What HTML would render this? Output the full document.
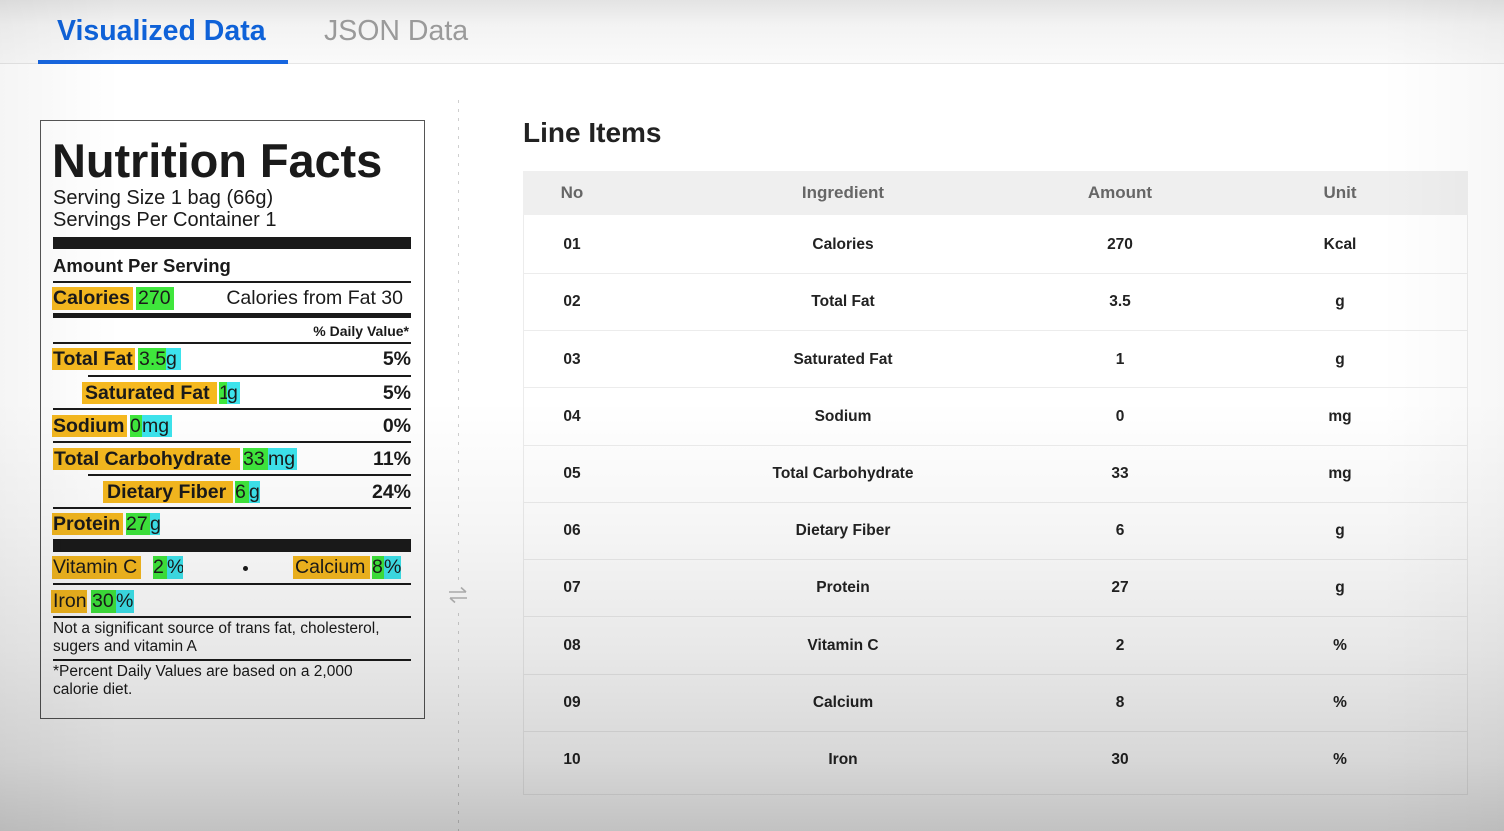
<!DOCTYPE html>
<html><head><meta charset="utf-8">
<style>
*{margin:0;padding:0;box-sizing:border-box}
html,body{width:1504px;height:831px;overflow:hidden;background:#fff;font-family:"Liberation Sans",Arial,sans-serif;color:#1a1a1a}
.abs{position:absolute}
#tabbar{position:absolute;left:0;top:0;width:1504px;height:64px;background:linear-gradient(#e3e3e3,#f3f3f3 40%,#fafafa);border-bottom:1.5px solid #e6e6e6}
.tab1{position:absolute;left:57px;top:14px;font-size:28.5px;font-weight:bold;color:#0f62d8;line-height:34px;white-space:nowrap}
.tab2{position:absolute;left:324px;top:14px;font-size:28.5px;color:#9a9a9a;line-height:34px;white-space:nowrap}
.uline{position:absolute;left:38px;top:60px;width:250px;height:4px;background:#1766e0}
#box{position:absolute;left:40px;top:120px;width:385px;height:599px;border:1.5px solid #555;background:#fff}
.t{position:absolute;white-space:nowrap}
.bar{position:absolute;background:#1a1a1a}
.hl{position:absolute;height:22px;line-height:22px;font-size:19.5px;white-space:nowrap;padding-left:1px}
.o{background:#f6b91f;font-weight:bold}
.or{background:#f6b91f}
.g{background:#3fe63c}
.c{background:#3de3ec}
.pct{position:absolute;right:1093px;font-size:19.5px;font-weight:bold;line-height:22px;text-align:right;white-space:nowrap}
#dots{position:absolute;left:458px;top:100px;width:1px;height:731px;background:repeating-linear-gradient(#cfcfcf 0 3px,transparent 3px 9px)}
#tbl{position:absolute;left:523px;top:171px;width:945px;height:624px;background:#fff;border-left:1px solid #ececec;border-right:1px solid #ececec;border-bottom:1px solid #ececec}
.th{position:absolute;top:171px;height:44px;line-height:44px;font-size:17px;font-weight:bold;color:#666;width:300px;text-align:center}
.td{position:absolute;height:24px;line-height:24px;font-size:15.5px;font-weight:bold;color:#222;width:300px;text-align:center}
.sep{position:absolute;left:523px;width:945px;height:1px;background:#ececec}
#ov{position:absolute;left:0;top:0;width:1504px;height:831px;pointer-events:none;
background:linear-gradient(to bottom,rgba(0,0,0,0) 0,rgba(0,0,0,0) 400px,rgba(0,0,0,0.035) 520px,rgba(0,0,0,0.09) 650px,rgba(0,0,0,0.155) 760px,rgba(0,0,0,0.24) 831px)}
#ov2{position:absolute;left:0;top:0;width:1504px;height:831px;pointer-events:none;
background:linear-gradient(to right,rgba(0,0,0,0.04) 0,rgba(0,0,0,0) 120px,rgba(0,0,0,0) 1380px,rgba(0,0,0,0.03) 1504px)}
</style></head><body>

<div id="tabbar"></div>
<div class="tab1">Visualized Data</div>
<div class="tab2">JSON Data</div>
<div class="uline"></div>

<div id="box"></div>
<div class="t" style="left:52px;top:134px;font-size:47px;font-weight:bold;line-height:54px;letter-spacing:-0.1px">Nutrition Facts</div>
<div class="t" style="left:53px;top:186px;font-size:20px;line-height:24px">Serving Size 1 bag (66g)</div>
<div class="t" style="left:53px;top:208px;font-size:20px;line-height:24px">Servings Per Container 1</div>
<div class="bar" style="left:53px;top:237px;width:358px;height:12px"></div>
<div class="t" style="left:53px;top:254px;font-size:18.5px;font-weight:bold;line-height:24px">Amount Per Serving</div>
<div class="bar" style="left:53px;top:281px;width:358px;height:1.5px"></div>

<!-- Calories -->
<div class="hl o" style="left:52px;top:287px;width:81px;height:23px;line-height:23px">Calories</div>
<div class="hl g" style="left:136px;top:287px;width:38px;height:23px;line-height:23px;padding-left:2px">270</div>
<div class="t" style="right:1101px;top:287px;font-size:19.5px;line-height:23px">Calories from Fat 30</div>
<div class="bar" style="left:53px;top:313px;width:358px;height:5px"></div>
<div class="t" style="right:1095px;top:322px;font-size:14px;font-weight:bold;line-height:18px">% Daily Value*</div>
<div class="bar" style="left:53px;top:342px;width:358px;height:1.5px"></div>

<!-- Total Fat -->
<div class="hl o" style="left:52px;top:348px;width:83px">Total Fat</div>
<div class="hl g" style="left:138px;top:348px;width:28px">3.5</div>
<div class="hl c" style="left:166px;top:348px;width:15px;padding-left:0">g</div>
<div class="pct" style="top:348px">5%</div>
<div class="bar" style="left:88px;top:375px;width:323px;height:1.5px"></div>

<!-- Saturated Fat -->
<div class="hl o" style="left:82px;top:382px;width:135px;padding-left:3px">Saturated Fat</div>
<div class="hl g" style="left:219px;top:382px;width:8px;padding-left:0">1</div>
<div class="hl c" style="left:227px;top:382px;width:13px;padding-left:0">g</div>
<div class="pct" style="top:382px">5%</div>
<div class="bar" style="left:53px;top:408px;width:358px;height:1.5px"></div>

<!-- Sodium -->
<div class="hl o" style="left:52px;top:415px;width:75px">Sodium</div>
<div class="hl g" style="left:130px;top:415px;width:12px;padding-left:0">0</div>
<div class="hl c" style="left:142px;top:415px;width:30px;padding-left:0">mg</div>
<div class="pct" style="top:415px">0%</div>
<div class="bar" style="left:53px;top:441px;width:358px;height:1.5px"></div>

<!-- Total Carbohydrate -->
<div class="hl o" style="left:53px;top:448px;width:187px">Total Carbohydrate</div>
<div class="hl g" style="left:243px;top:448px;width:25px;padding-left:0">33</div>
<div class="hl c" style="left:268px;top:448px;width:29px;padding-left:0">mg</div>
<div class="pct" style="top:448px">11%</div>
<div class="bar" style="left:88px;top:474px;width:323px;height:1.5px"></div>

<!-- Dietary Fiber -->
<div class="hl o" style="left:103px;top:481px;width:130px;padding-left:4px">Dietary Fiber</div>
<div class="hl g" style="left:235px;top:481px;width:14px;padding-left:0">6</div>
<div class="hl c" style="left:249px;top:481px;width:11px;padding-left:0">g</div>
<div class="pct" style="top:481px">24%</div>
<div class="bar" style="left:53px;top:507px;width:358px;height:1.5px"></div>

<!-- Protein -->
<div class="hl o" style="left:52px;top:513px;width:71px">Protein</div>
<div class="hl g" style="left:126px;top:513px;width:24px;padding-left:0">27</div>
<div class="hl c" style="left:150px;top:513px;width:10px;padding-left:0">g</div>
<div class="bar" style="left:53px;top:539px;width:358px;height:13px"></div>

<!-- Vitamins -->
<div class="hl or" style="left:52px;top:556px;width:89px;height:23px;line-height:23px">Vitamin C</div>
<div class="hl g" style="left:153px;top:556px;width:14px;height:23px;line-height:23px;padding-left:0">2</div>
<div class="hl c" style="left:167px;top:556px;width:16px;height:23px;line-height:23px;padding-left:0;overflow:hidden">%</div>
<div class="abs" style="left:243px;top:566px;width:5px;height:5px;border-radius:50%;background:#1a1a1a"></div>
<div class="hl or" style="left:293px;top:556px;width:77px;height:23px;line-height:23px;padding-left:2px">Calcium</div>
<div class="hl g" style="left:372px;top:556px;width:12px;height:23px;line-height:23px;padding-left:0">8</div>
<div class="hl c" style="left:384px;top:556px;width:17px;height:23px;line-height:23px;padding-left:0;overflow:hidden">%</div>
<div class="bar" style="left:53px;top:583px;width:358px;height:1.5px"></div>

<div class="hl or" style="left:51px;top:590px;width:36px;height:23px;line-height:23px;padding-left:2px">Iron</div>
<div class="hl g" style="left:91px;top:590px;width:25px;height:23px;line-height:23px;padding-left:1px">30</div>
<div class="hl c" style="left:116px;top:590px;width:18px;height:23px;line-height:23px;padding-left:0;overflow:hidden">%</div>
<div class="bar" style="left:53px;top:616px;width:358px;height:1.5px"></div>

<div class="t" style="left:53px;top:620px;font-size:15.5px;line-height:18px">Not a significant source of trans fat, cholesterol,<br>sugers and vitamin A</div>
<div class="bar" style="left:53px;top:659px;width:358px;height:1.5px"></div>
<div class="t" style="left:53px;top:663px;font-size:15.5px;line-height:18px">*Percent Daily Values are based on a 2,000<br>calorie diet.</div>

<!-- divider -->
<div id="dots"></div>
<div class="abs" style="left:446px;top:583px;width:24px;height:24px;background:#fff"></div>
<svg class="abs" style="left:447px;top:586px" width="22" height="18" viewBox="0 0 22 18">
<path d="M2 6 H19 M14 1.5 L19 6" stroke="#b5b5b5" stroke-width="1.6" fill="none"/>
<path d="M20 12 H3 M8 16.5 L3 12" stroke="#b5b5b5" stroke-width="1.6" fill="none"/>
</svg>

<!-- Line items -->
<div class="t" style="left:523px;top:116px;font-size:28px;font-weight:bold;line-height:34px;color:#222">Line Items</div>
<div id="tbl"></div>
<div class="abs" style="left:523px;top:171px;width:945px;height:44px;background:#efefef"></div>
<div class="th" style="left:422px">No</div>
<div class="th" style="left:693px">Ingredient</div>
<div class="th" style="left:970px">Amount</div>
<div class="th" style="left:1190px">Unit</div>

<div class="sep" style="top:273px"></div>
<div class="sep" style="top:330px"></div>
<div class="sep" style="top:387px"></div>
<div class="sep" style="top:445px"></div>
<div class="sep" style="top:502px"></div>
<div class="sep" style="top:559px"></div>
<div class="sep" style="top:616px"></div>
<div class="sep" style="top:674px"></div>
<div class="sep" style="top:731px"></div>

<div class="td" style="left:422px;top:233px">01</div><div class="td" style="left:693px;top:233px">Calories</div><div class="td" style="left:970px;top:233px">270</div><div class="td" style="left:1190px;top:233px">Kcal</div>
<div class="td" style="left:422px;top:290px">02</div><div class="td" style="left:693px;top:290px">Total Fat</div><div class="td" style="left:970px;top:290px">3.5</div><div class="td" style="left:1190px;top:290px">g</div>
<div class="td" style="left:422px;top:348px">03</div><div class="td" style="left:693px;top:348px">Saturated Fat</div><div class="td" style="left:970px;top:348px">1</div><div class="td" style="left:1190px;top:348px">g</div>
<div class="td" style="left:422px;top:405px">04</div><div class="td" style="left:693px;top:405px">Sodium</div><div class="td" style="left:970px;top:405px">0</div><div class="td" style="left:1190px;top:405px">mg</div>
<div class="td" style="left:422px;top:462px">05</div><div class="td" style="left:693px;top:462px">Total Carbohydrate</div><div class="td" style="left:970px;top:462px">33</div><div class="td" style="left:1190px;top:462px">mg</div>
<div class="td" style="left:422px;top:519px">06</div><div class="td" style="left:693px;top:519px">Dietary Fiber</div><div class="td" style="left:970px;top:519px">6</div><div class="td" style="left:1190px;top:519px">g</div>
<div class="td" style="left:422px;top:576px">07</div><div class="td" style="left:693px;top:576px">Protein</div><div class="td" style="left:970px;top:576px">27</div><div class="td" style="left:1190px;top:576px">g</div>
<div class="td" style="left:422px;top:634px">08</div><div class="td" style="left:693px;top:634px">Vitamin C</div><div class="td" style="left:970px;top:634px">2</div><div class="td" style="left:1190px;top:634px">%</div>
<div class="td" style="left:422px;top:691px">09</div><div class="td" style="left:693px;top:691px">Calcium</div><div class="td" style="left:970px;top:691px">8</div><div class="td" style="left:1190px;top:691px">%</div>
<div class="td" style="left:422px;top:748px">10</div><div class="td" style="left:693px;top:748px">Iron</div><div class="td" style="left:970px;top:748px">30</div><div class="td" style="left:1190px;top:748px">%</div>

<div id="ov2"></div>
<div id="ov"></div>
</body></html>
